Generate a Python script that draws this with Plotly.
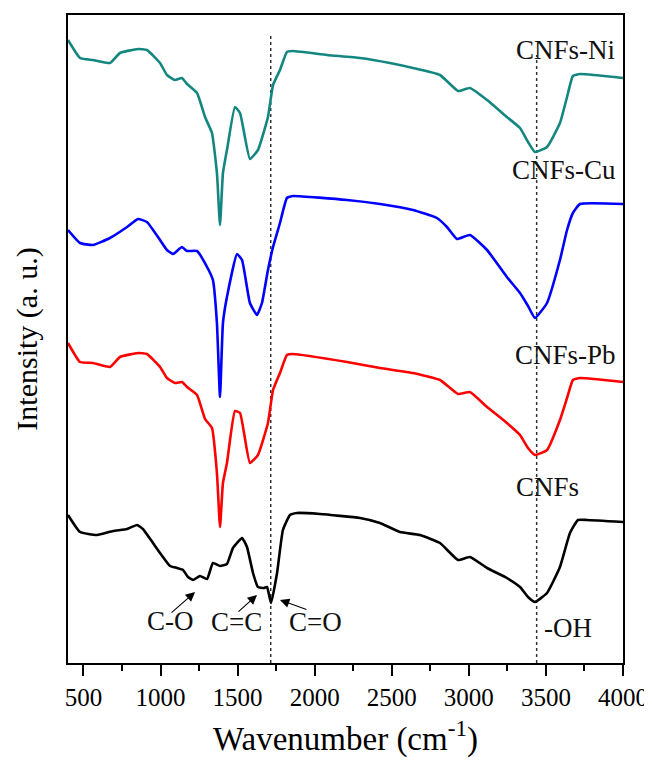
import plotly.graph_objects as go

# ---- data (wavenumber in cm^-1, intensity in arbitrary units) ----
wn_ni = [400, 478, 562, 672, 737, 854, 912, 997, 1042, 1094, 1139, 1172, 1237, 1289, 1334, 1366, 1386, 1405, 1431,
         1483, 1516, 1580, 1632, 1697, 1730, 1775, 1820, 1859, 2080, 2294, 2488, 2638, 2813, 2930, 3007, 3118, 3247,
         3332, 3384, 3429, 3507, 3591, 3637, 3675, 3721, 4000]
int_ni = [623, 605, 603, 600, 610, 614, 613, 600, 588, 583, 585, 579, 570, 546, 530, 490, 438, 490, 513,
          556, 550, 504, 513, 546, 578, 593, 611, 612, 608, 605, 600, 595, 588, 572, 575, 563, 546,
          535, 521, 511, 516, 540, 566, 587, 589, 585]

wn_cu = [400, 478, 562, 672, 783, 854, 912, 997, 1042, 1081, 1139, 1172, 1237, 1302, 1340, 1366, 1386, 1405, 1431,
         1496, 1529, 1580, 1626, 1658, 1697, 1730, 1775, 1820, 1859, 2210, 2424, 2638, 2793, 2858, 2923, 3007, 3118,
         3247, 3332, 3384, 3429, 3507, 3591, 3637, 3675, 3721, 4000]
int_cu = [433, 420, 418, 425, 436, 444, 441, 423, 413, 409, 416, 412, 412, 396, 383, 340, 266, 340, 366,
          409, 403, 360, 348, 360, 393, 416, 440, 465, 467, 463, 459, 453, 445, 436, 424, 428, 413,
          386, 370, 357, 345, 360, 403, 433, 450, 459, 459]

wn_pb = [400, 478, 562, 672, 737, 854, 912, 997, 1042, 1094, 1139, 1172, 1237, 1289, 1334, 1366, 1386, 1405, 1431,
         1483, 1516, 1580, 1632, 1697, 1730, 1775, 1820, 1859, 2210, 2424, 2638, 2813, 2930, 3007, 3118, 3247,
         3332, 3384, 3429, 3507, 3591, 3637, 3675, 3721, 4000]
int_pb = [320, 301, 300, 296, 306, 310, 309, 296, 285, 280, 281, 276, 268, 244, 235, 190, 136, 180, 200,
          252, 250, 200, 208, 240, 273, 290, 308, 309, 301, 295, 290, 283, 269, 271, 256, 240,
          228, 215, 208, 213, 243, 265, 283, 285, 281]

wn_cnf = [400, 478, 588, 692, 783, 848, 886, 951, 997, 1062, 1107, 1146, 1178, 1211, 1256, 1302, 1340, 1386, 1431,
          1470, 1529, 1561, 1600, 1632, 1671, 1691, 1717, 1756, 1794, 1840, 1885, 2034, 2294, 2424, 2553, 2683,
          2813, 2930, 3007, 3118, 3247, 3332, 3384, 3429, 3507, 3591, 3656, 3708, 3766, 4000]
int_cnf = [148, 131, 128, 132, 134, 138, 134, 120, 110, 97, 95, 93, 86, 83, 87, 84, 100, 97, 99,
           115, 125, 116, 90, 76, 75, 76, 60, 90, 133, 148, 150, 149, 145, 140, 131, 128,
           120, 103, 106, 95, 85, 76, 66, 61, 70, 96, 130, 143, 143, 141]

series_names = ["CNFs-Ni", "CNFs-Cu", "CNFs-Pb", "CNFs"]
series_colors = ["#13877f", "#0000ff", "#ff0000", "#000000"]

# reference (dotted) lines
ref_wn = [1715, 3440]
ref_top = [630, 608]

# text labels
label_text = ["CNFs-Ni", "CNFs-Cu", "CNFs-Pb", "CNFs", "-OH", "C-O", "C=C", "C=O"]
label_wn = [3624, 3617, 3630, 3513, 3643, 1062, 1490, 2008]
label_int = [613, 493, 308, 176, 35, 42, 41, 41]

# band-assignment arrows: tip (data) and tail offset (px)
arrow_tip_wn = [1224, 1626, 1775]
arrow_tip_int = [71, 68, 63]
arrow_ax = [-25, -20, 28]
arrow_ay = [22, 18, 10]

FONT = "Liberation Serif"

fig = go.Figure()
for wn, it, name, col in zip([wn_ni, wn_cu, wn_pb, wn_cnf], [int_ni, int_cu, int_pb, int_cnf],
                             series_names, series_colors):
    fig.add_trace(go.Scatter(x=wn, y=it, mode="lines", name=name,
                             line=dict(color=col, width=2.6, shape="spline", smoothing=0.4),
                             showlegend=False))

for xv, top in zip(ref_wn, ref_top):
    fig.add_shape(type="line", xref="x", yref="y", x0=xv, x1=xv, y0=0, y1=top,
                  line=dict(color="#333333", width=1.5, dash="dot"), layer="below")

for t, xv, yv in zip(label_text, label_wn, label_int):
    fig.add_annotation(x=xv, y=yv, text=t, showarrow=False,
                       font=dict(family=FONT, size=27, color="#111111"))

for xv, yv, ax, ay in zip(arrow_tip_wn, arrow_tip_int, arrow_ax, arrow_ay):
    fig.add_annotation(x=xv, y=yv, text="", showarrow=True, ax=ax, ay=ay, standoff=0,
                       arrowhead=2, arrowsize=1.7, arrowwidth=1.1, arrowcolor="black")

# faint frame edge at right of the original image
fig.add_shape(type="line", xref="paper", yref="paper", x0=1.0432, x1=1.0432, y0=-0.151, y1=0.977,
              line=dict(color="#cccccc", width=1.5))

# page body has an 8px margin, so the figure is sized/offset to compensate
fig.update_layout(
    width=644, height=753,
    margin=dict(l=60, r=29, t=7, b=98),
    paper_bgcolor="white", plot_bgcolor="white",
    font=dict(family=FONT, color="black"),
    xaxis=dict(range=[400, 4000], tick0=500, dtick=500, ticks="outside", ticklen=11, tickwidth=1.5,
               tickcolor="black", showline=True, linecolor="black", linewidth=1.8, mirror=True,
               showgrid=False, zeroline=False, tickfont=dict(family=FONT, size=25), automargin=False,
               minor=dict(dtick=250, tick0=250, ticks="outside", ticklen=6, tickwidth=1.5, tickcolor="black"),
               title=dict(text="Wavenumber (cm<sup>-1</sup>)", font=dict(family=FONT, size=33), standoff=17)),
    yaxis=dict(range=[0, 648], showticklabels=False, ticks="", showline=True, linecolor="black",
               linewidth=1.8, mirror=True, showgrid=False, zeroline=False, automargin=False,
               title=dict(text="Intensity (a. u.)", font=dict(family=FONT, size=30), standoff=20)),
)

fig.write_html("out.html")
